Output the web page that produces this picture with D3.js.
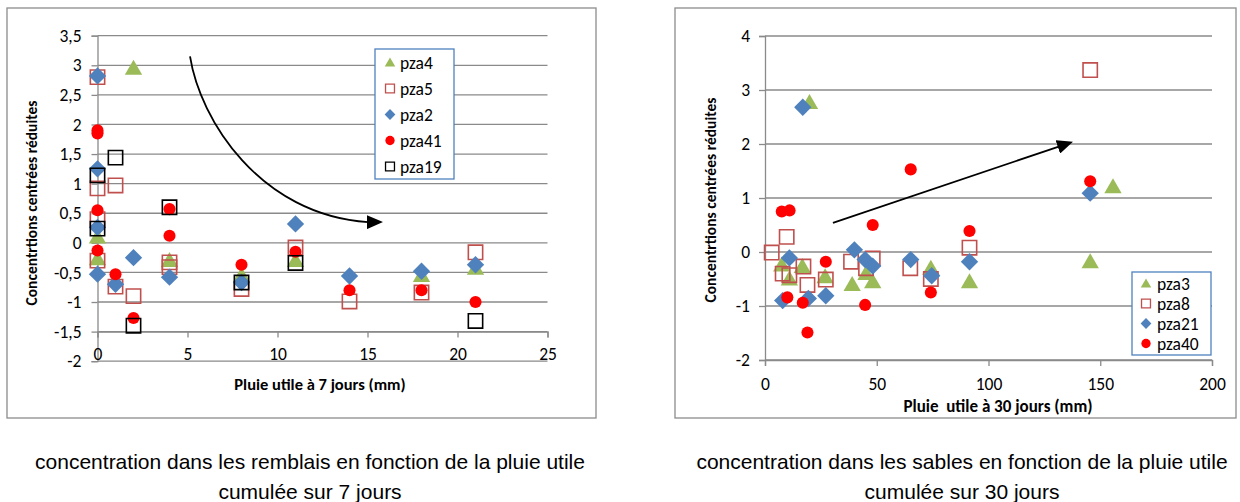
<!DOCTYPE html>
<html><head><meta charset="utf-8">
<script src="https://cdn.jsdelivr.net/npm/d3@7"></script>
<style>
html,body{margin:0;padding:0;background:#fff;}
svg{display:block;}
text{font-family:"Carlito","Lato",sans-serif;}
.cap{font-family:"Liberation Sans",Arial,sans-serif;}
</style></head>
<body>
<svg id="c" width="1240" height="502"></svg>
<script>
// ---------- data : chart 1 (remblais, pluie utile 7 jours) ----------
const leftSeriesNames = ["pza4","pza5","pza2","pza41","pza19"];
const pza4  = [[0,0.1],[0,-0.27],[2,2.95],[4,-0.3],[8,-0.55],[11,-0.3],[18,-0.55],[21,-0.43]];
const pza5  = [[0,2.8],[0,0.92],[0,0.4],[0,-0.3],[1,0.97],[1,-0.74],[2,-0.9],[4,-0.33],[4,-0.41],[8,-0.78],[11,-0.08],[14,-0.99],[18,-0.84],[21,-0.16]];
const pza2  = [[0,2.82],[0,1.25],[0,0.26],[0,-0.53],[1,-0.7],[2,-0.25],[4,-0.58],[8,-0.67],[11,0.32],[14,-0.56],[18,-0.48],[21,-0.37]];
const pza41 = [[0,1.9],[0,1.85],[0,0.55],[0,-0.13],[1,-0.53],[2,-1.27],[4,0.57],[4,0.12],[8,-0.37],[11,-0.15],[14,-0.8],[18,-0.8],[21,-1.0]];
const pza19 = [[0,1.14],[0,0.24],[1,1.44],[2,-1.4],[4,0.6],[8,-0.67],[11,-0.34],[21,-1.32]];
const leftXTicks = [0,5,10,15,20,25];
const leftYTicks = [-2,-1.5,-1,-0.5,0,0.5,1,1.5,2,2.5,3,3.5];
// curved arrow (data units): start, ctrl1, ctrl2, end, tip
const leftArrow = [[5.14,3.15],[5.69,2.08],[9.03,0.47],[15.03,0.35],[15.86,0.35]];

// ---------- data : chart 2 (sables, pluie utile 30 jours) ----------
const rightSeriesNames = ["pza3","pza8","pza21","pza40"];
const pza3  = [[7.5,-0.24],[10.9,-0.5],[16.7,-0.27],[19.9,2.77],[26.9,-0.46],[39,-0.6],[45.2,-0.4],[48.2,-0.55],[74.2,-0.3],[91.5,-0.55],[145.5,-0.18],[155.7,1.21]];
const pza8  = [[3,-0.01],[9.7,0.28],[7.9,-0.4],[10.9,-0.43],[17.2,-0.27],[19,-0.61],[27.2,-0.51],[38.5,-0.18],[45.2,-0.3],[48.2,-0.12],[65,-0.3],[74.2,-0.5],[91.5,0.08],[145.5,3.37]];
const pza21 = [[7.9,-0.9],[10.9,-0.11],[16.9,2.68],[19.4,-0.86],[27.2,-0.81],[40,0.04],[44.8,-0.14],[48.2,-0.26],[65.2,-0.14],[74.6,-0.44],[91.5,-0.18],[145.5,1.09]];
const pza40 = [[7.5,0.75],[11,0.77],[10,-0.84],[16.9,-0.94],[19,-1.49],[27.2,-0.18],[44.8,-0.98],[48.2,0.5],[65.2,1.53],[74.2,-0.75],[91.5,0.39],[145.5,1.31]];
const rightXTicks = [0,50,100,150,200];
const rightYTicks = [-2,-1,0,1,2,3,4];
const rightArrow = [[30.4,0.54],[137.8,2.04]];

const yTitle = "Concentrtions centrées réduites";
const leftXTitle = "Pluie utile à 7 jours (mm)";
const rightXTitle = "Pluie  utile à 30 jours (mm)";
const leftCaption = ["concentration dans les remblais en fonction de la pluie utile","cumulée sur 7 jours"];
const rightCaption = ["concentration dans les sables en fonction de la pluie utile","cumulée sur 30 jours"];

// ---------- styles ----------
const STY = {
  tri:  {type:"tri", fill:"#9BBB59", stroke:"none"},
  sqR:  {type:"sq", fill:"none", stroke:"#C0504D"},
  dia:  {type:"dia", fill:"#4F81BD", stroke:"none"},
  cir:  {type:"cir", fill:"#FF0000", stroke:"none"},
  sqK:  {type:"sq", fill:"none", stroke:"#000000"}
};
const GRID = "#8a8a8a";
const FONT = "Carlito, Lato, sans-serif";

function symPath(type, big){
  if(type==="tri") return d3.symbol(d3.symbolTriangle, big?130:48)();
  if(type==="sq")  return d3.symbol(d3.symbolSquare, big?205:80)();
  if(type==="dia") return d3.symbol(d3.symbolSquare, big?150:58)();
  return d3.symbol(d3.symbolCircle, big?115:68)();
}
function drawMarker(g, st, x, y, big){
  const p = g.append("path").attr("d", symPath(st.type, big))
    .attr("fill", st.fill).attr("stroke", st.stroke).attr("stroke-width", st.stroke==="none"?0:(big?1.6:1.3));
  let tr = `translate(${x},${y})`;
  if(st.type==="dia") tr += " rotate(45)";
  if(st.type==="tri") tr += big? " translate(0,1.5)" : " translate(0,1)";
  p.attr("transform", tr);
}

const svg = d3.select("#c");
const defs = svg.append("defs");
defs.append("marker").attr("id","ah").attr("viewBox","0 0 16 14").attr("refX",1).attr("refY",7)
  .attr("markerWidth",16).attr("markerHeight",14).attr("markerUnits","userSpaceOnUse").attr("orient","auto")
  .append("path").attr("d","M0,0 L16,7 L0,14 Z").attr("fill","#000");

function commaFmt(d){ return String(d).replace(".", ","); }

function chart(o){
  const g = svg.append("g");
  g.append("rect").attr("x",o.frame[0]).attr("y",o.frame[1]).attr("width",o.frame[2]-o.frame[0]).attr("height",o.frame[3]-o.frame[1])
    .attr("fill","#fff").attr("stroke","#8c8c8c").attr("stroke-width",1.3);
  const x = d3.scaleLinear().domain(o.xDomain).range(o.xRange);
  const y = d3.scaleLinear().domain(o.yDomain).range(o.yRange);
  g.append("g").selectAll("line").data(o.yTicks).join("line")
    .attr("x1",o.xRange[0]).attr("x2",o.xRange[1]).attr("y1",d=>y(d)).attr("y2",d=>y(d))
    .attr("stroke",GRID).attr("stroke-width",1.3);
  const ya = g.append("g").attr("transform",`translate(${x(o.yCross)},0)`)
    .call(d3.axisLeft(y).tickValues(o.yTicks).tickSize(6).tickPadding(o.yPad).tickFormat(o.fmt));
  ya.select(".domain").attr("stroke",GRID).attr("stroke-width",1.3);
  ya.selectAll(".tick line").attr("stroke",GRID).attr("stroke-width",1.3);
  ya.selectAll("text").attr("font-family",FONT).attr("font-size",o.tickFs).attr("fill","#000");
  const xa = g.append("g").attr("transform",`translate(0,${y(o.xCross)})`)
    .call(d3.axisBottom(x).tickValues(o.xTicks).tickSize(6).tickFormat(o.fmt));
  xa.select(".domain").attr("stroke",GRID).attr("stroke-width",1.3);
  xa.selectAll(".tick line").attr("stroke",GRID).attr("stroke-width",1.3);
  xa.selectAll("text").attr("font-family",FONT).attr("font-size",o.tickFs).attr("fill","#000").attr("y",o.xLabY);
  g.append("text").attr("transform",`translate(${o.yTitlePos[0]},${o.yTitlePos[1]}) rotate(-90)`)
    .attr("text-anchor","middle").attr("font-weight","bold").attr("font-size",15.5).text(yTitle);
  g.append("text").attr("x",o.xTitlePos[0]).attr("y",o.xTitlePos[1]).attr("text-anchor","middle")
    .attr("font-weight","bold").attr("font-size",o.xTitleFs).style("white-space","pre").text(o.xTitle);
  const pts = g.append("g");
  o.series.forEach(s=>{
    s.data.forEach(d=> drawMarker(pts, s.st, x(d[0]), y(d[1]), true));
  });
  const L = o.legend;
  g.append("rect").attr("x",L.x).attr("y",L.y).attr("width",L.w).attr("height",L.h)
    .attr("fill","#fff").attr("stroke","#4F81BD").attr("stroke-width",1.3);
  o.series.forEach((s,i)=>{
    const cy = L.y + L.first + i*L.step;
    drawMarker(g, s.st, L.x+L.mx, cy, false);
    g.append("text").attr("x",L.x+L.tx).attr("y",cy).attr("dy","0.35em").attr("font-size",L.fs).text(s.name);
  });
  o.caption.forEach((t,i)=>{
    g.append("text").attr("class","cap").attr("x",o.capX).attr("y",469+i*30).attr("text-anchor","middle")
      .attr("font-size",21).attr("font-family","Liberation Sans, Arial, sans-serif").text(t);
  });
  return {g,x,y};
}

const L = chart({
  frame:[7,8,596,418],
  xDomain:[0,25], xRange:[97.5,547.5], yDomain:[-2,3.5], yRange:[361.2,35.7],
  xTicks:leftXTicks, yTicks:leftYTicks, yCross:0, xCross:-1.5, yPad:10, xLabY:16, fmt:commaFmt, tickFs:17.5,
  yTitlePos:[37,203], xTitlePos:[320,390], xTitle:leftXTitle, xTitleFs:16.5,
  series:[{name:leftSeriesNames[0],data:pza4,st:STY.tri},{name:leftSeriesNames[1],data:pza5,st:STY.sqR},
          {name:leftSeriesNames[2],data:pza2,st:STY.dia},{name:leftSeriesNames[3],data:pza41,st:STY.cir},
          {name:leftSeriesNames[4],data:pza19,st:STY.sqK}],
  legend:{x:375,y:49,w:79,h:130,first:13.5,step:26,mx:15,tx:25,fs:17.5},
  caption:leftCaption, capX:310
});
{
  const a = leftArrow.map(p=>[L.x(p[0]),L.y(p[1])]);
  const path = d3.path();
  path.moveTo(a[0][0],a[0][1]);
  path.bezierCurveTo(a[1][0],a[1][1],a[2][0],a[2][1],a[3][0],a[3][1]);
  L.g.append("path").attr("d",path.toString()).attr("fill","none").attr("stroke","#000").attr("stroke-width",1.8);
  L.g.append("path").attr("d",`M${a[3][0]-1},${a[3][1]}L${a[4][0]-15},${a[4][1]}`).attr("stroke","#000")
    .attr("stroke-width",1.8).attr("marker-end","url(#ah)");
}

const R = chart({
  frame:[675,8,1236,418],
  xDomain:[0,200], xRange:[765,1212], yDomain:[-2,4], yRange:[360,36],
  xTicks:rightXTicks, yTicks:rightYTicks, yCross:0, xCross:-2, yPad:9, xLabY:18, fmt:d=>String(d), tickFs:17.5,
  yTitlePos:[716,200], xTitlePos:[998,412], xTitle:rightXTitle, xTitleFs:17,
  series:[{name:rightSeriesNames[0],data:pza3,st:STY.tri},{name:rightSeriesNames[1],data:pza8,st:STY.sqR},
          {name:rightSeriesNames[2],data:pza21,st:STY.dia},{name:rightSeriesNames[3],data:pza40,st:STY.cir}],
  legend:{x:1132,y:272,w:79,h:83,first:11.5,step:20,mx:14,tx:25,fs:17.5},
  caption:rightCaption, capX:962
});
{
  const a = rightArrow.map(p=>[R.x(p[0]),R.y(p[1])]);
  const ang = Math.atan2(a[1][1]-a[0][1], a[1][0]-a[0][0]);
  const ex = a[1][0]-15*Math.cos(ang), ey = a[1][1]-15*Math.sin(ang);
  R.g.append("path").attr("d",`M${a[0][0]},${a[0][1]}L${ex},${ey}`).attr("stroke","#000")
    .attr("stroke-width",1.8).attr("marker-end","url(#ah)");
}
</script>
</body></html>
